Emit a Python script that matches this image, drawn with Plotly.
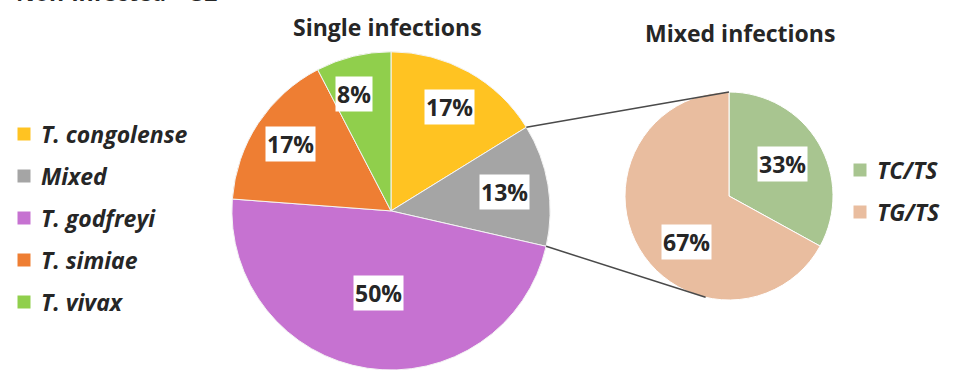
import math
import plotly.graph_objects as go

# Single-infection breakdown (percent of positive samples)
single_labels = ["T. congolense", "Mixed", "T. godfreyi", "T. simiae", "T. vivax"]
single_values = [17, 13, 50, 17, 8]
single_colors = ["#FFC322", "#A5A5A5", "#C672D1", "#EE7E33", "#90CF4C"]

# Mixed-infection breakdown (percent of mixed samples)
mixed_labels = ["TC/TS", "TG/TS"]
mixed_values = [33, 67]
mixed_colors = ["#A8C590", "#E9BD9F"]

W, H = 953, 370
FONT = "Open Sans"
TXT = "#262626"

# pie placement (paper fractions)
dom_single = dict(x=[229 / W, 553 / W], y=[0, 0.86])
dom_mixed = dict(x=[625 / W, 833 / W], y=[70 / H, 278 / H])

fig = go.Figure()
fig.add_trace(go.Pie(
    labels=single_labels, values=single_values, sort=False,
    direction="clockwise", rotation=0, textinfo="none",
    marker=dict(colors=single_colors, line=dict(color="#F4F4F4", width=1)),
    domain=dom_single, showlegend=False, hoverinfo="label+percent",
))
fig.add_trace(go.Pie(
    labels=mixed_labels, values=mixed_values, sort=False,
    direction="clockwise", rotation=0, textinfo="none",
    marker=dict(colors=mixed_colors, line=dict(color="#FFFFFF", width=1)),
    domain=dom_mixed, showlegend=False, hoverinfo="label+percent",
))


def geometry(dom):
    """Centre (px from left, px from top) and radius of a pie in its domain."""
    x0, x1 = dom["x"][0] * W, dom["x"][1] * W
    y0, y1 = (1 - dom["y"][1]) * H, (1 - dom["y"][0]) * H
    r = min(x1 - x0, y1 - y0) / 2
    return (x0 + x1) / 2, (y0 + y1) / 2, r


def point(cx, cy, r, frac_angle, dist):
    a = 2 * math.pi * frac_angle
    return cx + dist * r * math.sin(a), cy - dist * r * math.cos(a)


def to_paper(px, py):
    return px / W, 1 - py / H


def cumulative(values):
    tot = sum(values)
    out, acc = [], 0
    for v in values:
        out.append((acc / tot, (acc + v) / tot))
        acc += v
    return out


annotations = []
shapes = []


def add_value_labels(values, dom, radial, nudge):
    cx, cy, r = geometry(dom)
    for v, (a0, a1), d, dn in zip(values, cumulative(values), radial, nudge):
        px, py = point(cx, cy, r, (a0 + a1) / 2 + dn / 360, d)
        x, y = to_paper(px, py)
        annotations.append(dict(
            x=x, y=y, xref="paper", yref="paper", xanchor="center",
            yanchor="middle", text=f"<b>{v}%</b>",
            showarrow=False, bgcolor="white", borderpad=1,
            font=dict(family=FONT, size=23, color=TXT),
        ))


add_value_labels(single_values, dom_single, [0.75, 0.72, 0.52, 0.76, 0.77], [0, 0, 0, 0, -4])
add_value_labels(mixed_values, dom_mixed, [0.6, 0.6], [0, -17])

# connector lines from the "Mixed" slice to the second pie
cx1, cy1, r1 = geometry(dom_single)
cx2, cy2, r2 = geometry(dom_mixed)
mix_idx = single_labels.index("Mixed")
m0, m1 = cumulative(single_values)[mix_idx]
for a_src, a_dst in [(m0, 0.0), (m1, 193 / 360)]:
    sx, sy = point(cx1, cy1, r1, a_src, 1.0)
    ex, ey = point(cx2, cy2, r2, a_dst, 1.0)
    x0, y0 = to_paper(sx, sy)
    x1, y1 = to_paper(ex, ey)
    shapes.append(dict(type="line", xref="paper", yref="paper",
                       x0=x0, y0=y0, x1=x1, y1=y1,
                       line=dict(color="#4A4A4A", width=1.5)))


def add_legend(labels, colors, sq_x, text_x, y_first, step):
    for i, (lab, col) in enumerate(zip(labels, colors)):
        yc = y_first + i * step
        half = 6.5
        shapes.append(dict(type="rect", xref="paper", yref="paper",
                           x0=(sq_x - half) / W, x1=(sq_x + half) / W,
                           y0=1 - (yc + half) / H, y1=1 - (yc - half) / H,
                           fillcolor=col, line=dict(width=0)))
        annotations.append(dict(
            x=text_x / W, y=1 - yc / H, xref="paper", yref="paper",
            xanchor="left", yanchor="middle", showarrow=False,
            text=f"<b><i>{lab}</i></b>",
            font=dict(family=FONT, size=23, color=TXT),
        ))


add_legend(single_labels, single_colors, 24, 39, 134, 42)
add_legend(mixed_labels, mixed_colors, 860, 875, 170, 42)

# titles
for text, xc, yc in [("Single infections", 387, 27), ("Mixed infections", 740, 33)]:
    annotations.append(dict(
        x=xc / W, y=1 - yc / H, xref="paper", yref="paper", showarrow=False,
        xanchor="center", yanchor="middle",
        text=f"<b>{text}</b>", font=dict(family=FONT, size=23, color=TXT),
    ))

annotations.append(dict(
    x=14 / W, y=1, xref="paper", yref="paper", xanchor="left", yanchor="bottom",
    yshift=-10, showarrow=False, text="<b>Non-infected = 32</b>",
    font=dict(family=FONT, size=23, color=TXT),
))

fig.update_layout(
    width=W, height=H, margin=dict(l=0, r=0, t=0, b=0),
    paper_bgcolor="white", plot_bgcolor="white",
    annotations=annotations, shapes=shapes,
)

fig.write_html("out.html")
